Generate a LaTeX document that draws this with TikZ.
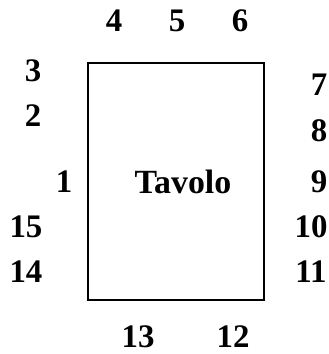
\documentclass[tikz,border=0pt]{standalone}
\usepackage{fontspec}
\setmainfont{Liberation Serif}
\begin{document}
\begin{tikzpicture}[x=1bp,y=-1bp,
  num/.style={font=\fontsize{33}{33}\selectfont\bfseries, inner sep=0pt, anchor=center},
  tbl/.style={draw=black, line width=2.3bp, minimum width=176bp, minimum height=237bp, inner sep=0pt}]
\useasboundingbox (0,0) rectangle (329,354);
\node[tbl] (table) at (176,181.5) {};
\node[font=\fontsize{34}{34}\selectfont\bfseries, inner sep=0pt] (label) at (183,182) {Tavolo};
\node[num] (n4) at (114,21) {4};
\node[num] (n5) at (177,21) {5};
\node[num] (n6) at (240,21) {6};
\node[num] (n3) at (33,71) {3};
\node[num] (n2) at (33,116) {2};
\node[num] (n1) at (64,182) {1};
\node[num] (n15) at (26,227) {15};
\node[num] (n14) at (26,272) {14};
\node[num] (n7) at (319,85) {7};
\node[num] (n8) at (319,131) {8};
\node[num] (n9) at (319,182) {9};
\node[num] (n10) at (311,227) {10};
\node[num] (n11) at (311,272) {11};
\node[num] (n13) at (138,337) {13};
\node[num] (n12) at (233,337) {12};
\end{tikzpicture}
\end{document}
